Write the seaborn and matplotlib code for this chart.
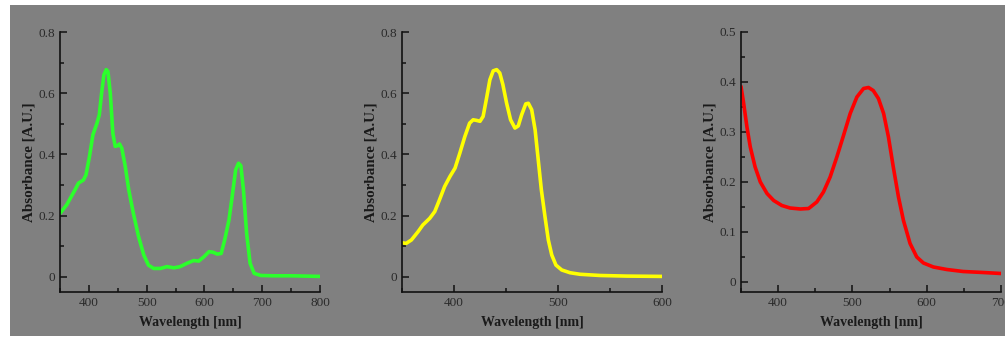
import numpy as np
import matplotlib
matplotlib.use('Agg')
import matplotlib.pyplot as plt
from matplotlib.patches import Rectangle
from matplotlib.ticker import MultipleLocator, FuncFormatter
import seaborn as sns

# Spectrum 1 (green)
green_wl = [350, 361.6, 376, 382, 390.5, 395, 401, 407, 414, 418, 422, 426, 430, 433,
            437, 441.5, 445.5, 449.5, 453, 457, 463, 469, 477, 486, 495, 503, 512, 524,
            535, 547, 558, 570, 581.5, 590, 599, 608, 615, 622, 629, 635, 642.5, 648,
            654, 659, 663, 667.5, 673, 679, 686, 697.5, 720.5, 750, 800]
green_abs = [0.207, 0.235, 0.284, 0.306, 0.316, 0.333, 0.393, 0.464, 0.502, 0.529, 0.600,
             0.660, 0.677, 0.671, 0.600, 0.469, 0.426, 0.428, 0.434, 0.420, 0.360, 0.284,
             0.207, 0.131, 0.071, 0.038, 0.027, 0.027, 0.033, 0.029, 0.033, 0.044, 0.053,
             0.051, 0.065, 0.082, 0.080, 0.074, 0.076, 0.120, 0.186, 0.262, 0.349, 0.371,
             0.363, 0.284, 0.142, 0.044, 0.011, 0.004, 0.003, 0.003, 0.001]

# Spectrum 2 (yellow)
yellow_wl = [350, 354, 359, 365.4, 370, 376.7, 381.5, 386, 391, 396, 401, 405.6, 410.4,
             415, 418.4, 421.7, 425, 428, 431, 434.5, 437.7, 441, 444, 447, 450.6, 454.4,
             458.6, 461.8, 465, 469, 471.5, 474.7, 478, 481, 484, 487.5, 490.7, 494, 498,
             503.6, 511.6, 521, 540.5, 566, 600]
yellow_abs = [0.111, 0.109, 0.120, 0.147, 0.169, 0.191, 0.213, 0.251, 0.295, 0.327, 0.355,
              0.404, 0.458, 0.502, 0.513, 0.511, 0.508, 0.524, 0.578, 0.644, 0.673, 0.677,
              0.666, 0.628, 0.567, 0.513, 0.486, 0.493, 0.529, 0.565, 0.567, 0.546, 0.480,
              0.382, 0.284, 0.196, 0.120, 0.071, 0.038, 0.022, 0.013, 0.008, 0.004, 0.002,
              0.001]

# Spectrum 3 (red)
red_wl = [350, 353.6, 358, 362.5, 369, 376, 385, 394, 405, 416, 430, 441, 452, 461, 470,
          479, 488, 497, 506, 515, 521.6, 528, 535, 542, 548.5, 555, 562, 568.7, 577.6,
          586.6, 595.6, 609, 627, 649, 676, 700]
red_abs = [0.391, 0.357, 0.310, 0.270, 0.230, 0.200, 0.177, 0.163, 0.153, 0.148, 0.146,
           0.147, 0.160, 0.180, 0.210, 0.250, 0.293, 0.337, 0.370, 0.387, 0.389, 0.383,
           0.367, 0.337, 0.290, 0.230, 0.170, 0.123, 0.077, 0.050, 0.038, 0.030, 0.025,
           0.021, 0.019, 0.017]

sns.set_theme(style='ticks')
plt.rcParams['font.family'] = ['Liberation Serif', 'DejaVu Serif']

bg = '#808080'
fig = plt.figure(figsize=(10.05, 3.37), dpi=100, facecolor='white')
# grey backdrop behind all three panels
fig.patches.append(Rectangle((10 / 1005, 1 / 337), 1, 331 / 337, transform=fig.transFigure,
                             facecolor=bg, edgecolor='none', zorder=-10))

panels = [
    (green_wl, green_abs, '#2bff2b', 60, (350, 800), (-0.05, 0.8), 100, 50, 0.2, 0.1),
    (yellow_wl, yellow_abs, '#ffff00', 402, (350, 600), (-0.05, 0.8), 100, 50, 0.2, 0.1),
    (red_wl, red_abs, '#ff0000', 741, (350, 700), (-0.02, 0.5), 100, 50, 0.1, 0.05),
]

fmt = FuncFormatter(lambda v, p: '0' if abs(v) < 1e-9 else f'{v:g}')

for wl, ab, col, left, xlim, ylim, xmaj, xmin, ymaj, ymin in panels:
    ax = fig.add_axes([left / 1005, 45 / 337, 260 / 1005, 260 / 337])
    ax.set_facecolor('none')
    sns.lineplot(x=wl, y=ab, ax=ax, color=col, linewidth=2.6, sort=False)
    ax.set_xlim(*xlim)
    ax.set_ylim(*ylim)
    ax.xaxis.set_major_locator(MultipleLocator(xmaj))
    ax.xaxis.set_minor_locator(MultipleLocator(xmin))
    ax.yaxis.set_major_locator(MultipleLocator(ymaj))
    ax.yaxis.set_minor_locator(MultipleLocator(ymin))
    ax.yaxis.set_major_formatter(fmt)
    for side in ['top', 'right']:
        ax.spines[side].set_visible(False)
    for side in ['left', 'bottom']:
        ax.spines[side].set_color('#111111')
        ax.spines[side].set_linewidth(1.2)
    ax.tick_params(which='both', direction='in', color='#111111', width=1.1,
                   labelsize=9.5, labelcolor='#2a2a2a')
    ax.tick_params(which='major', length=5)
    ax.tick_params(which='minor', length=3)
    ax.set_xlabel('Wavelength [nm]', fontsize=10, fontweight='bold', color='#1a1a1a', labelpad=5)
    ax.set_ylabel('Absorbance [A.U.]', fontsize=10.8, fontweight='bold', color='#1a1a1a', labelpad=2)

fig.savefig('out.png', dpi=100, facecolor='white')
